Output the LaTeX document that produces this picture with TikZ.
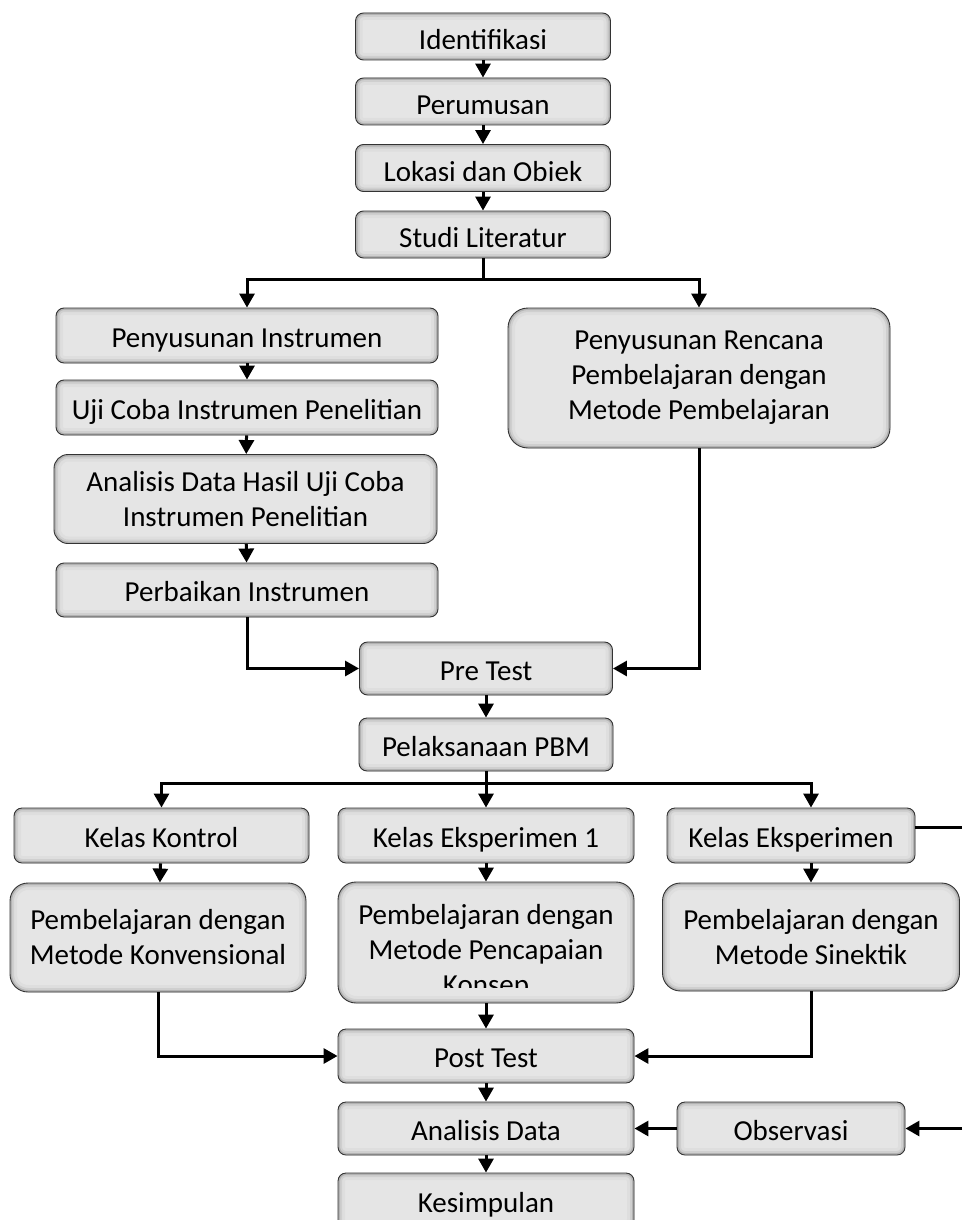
\documentclass[tikz,border=0pt]{standalone}
\usepackage{fontspec}
\setmainfont{Carlito}
\usetikzlibrary{arrows.meta,calc}

\begin{document}
\begin{tikzpicture}[x=1pt, y=-1pt,
  flowbox/.style={draw=black!80, line width=0.9pt, fill=black!10, rounded corners=#1,
    inner sep=2pt, align=center, font=\fontsize{29}{35}\selectfont,
    path picture={
      \foreach \w/\c in {14/13, 8/19, 4/30}{
        \draw[black!\c, line width=\w pt, rounded corners=#1]
          (path picture bounding box.south west) rectangle (path picture bounding box.north east);
      };
    }},
  flowbox/.default=8pt,
  oneline/.style={text height=23pt, text depth=0pt},
  flowtext/.style={font=\fontsize{29}{35}\selectfont, align=center, inner sep=0pt},
  arr/.style={-{Triangle[width=15pt,length=14pt]}, line width=3pt},
  link/.style={line width=3pt}]
  \useasboundingbox (0,0) rectangle (962,1220);

  \foreach \n/\t/\yy in {ident/Identifikasi/36.5, perum/Perumusan/101.5,
                         lokasi/Lokasi dan Objek/168, studi/Studi Literatur/234.5}{
    \node[flowbox, minimum width=255, minimum height=47] (\n) at (483,\yy) {};
    \begin{scope}
      \clip (355,{\yy-23}) rectangle (610,{\yy+12.5});
      \node[flowtext, anchor=base] (\n-txt) at (483,{\yy+13}) {\t};
    \end{scope}
  };
  \foreach \a/\b in {ident/perum, perum/lokasi, lokasi/studi}{
    \draw[arr] (\a) -- (\b);
  };

  \node[flowbox, oneline, minimum width=382, minimum height=55] (pinst) at (247,335.5) {Penyusunan Instrumen};
  \node[flowbox, oneline, minimum width=382, minimum height=55] (uji) at (247,407.5) {Uji Coba Instrumen Penelitian};
  \node[flowbox=14pt, minimum width=383, minimum height=89] (anhasil) at (245.5,499) {Analisis Data Hasil Uji Coba\\Instrumen Penelitian};
  \node[flowbox, oneline, minimum width=382, minimum height=54] (perb) at (247,590) {Perbaikan Instrumen};
  \node[flowbox=20pt, minimum width=382, minimum height=140] (prenc) at (699,378) {Penyusunan Rencana\\Pembelajaran dengan\\Metode Pembelajaran};
  \node[flowbox, oneline, minimum width=253, minimum height=53] (pretest) at (486,668.5) {Pre Test};
  \node[flowbox, oneline, minimum width=254, minimum height=53] (pelak) at (486,744.5) {Pelaksanaan PBM};

  \draw[arr] (studi.south) -- ++(0,21) -| (pinst.north);
  \draw[arr] (studi.south) -- ++(0,21) -| (prenc.north);
  \draw[arr] (pinst) -- (uji);
  \draw[arr] (uji) -- (anhasil);
  \draw[arr] (anhasil) -- (perb);
  \draw[arr] (perb.south) |- (pretest.west);
  \draw[arr] (prenc.south) |- (pretest.east);
  \draw[arr] (pretest) -- (pelak);

  \node[flowbox, oneline, minimum width=295, minimum height=55] (kontrol) at (161.5,835.5) {Kelas Kontrol};
  \node[flowbox, oneline, minimum width=296, minimum height=55] (eks1) at (486,835.5) {Kelas Eksperimen 1};
  \node[flowbox, oneline, minimum width=248, minimum height=55] (eks2) at (791,835.5) {Kelas Eksperimen};
  \node[flowbox=18pt, minimum width=296, minimum height=109] (konv) at (158,937.5) {Pembelajaran dengan\\Metode Konvensional};
  \node[flowbox=18pt, minimum width=296, minimum height=121] (pencap) at (486,942.5) {};
  \begin{scope}
    \clip (337,882) rectangle (633,987);
    \node[flowtext] (pencap-txt) at (486,952) {Pembelajaran dengan\\Metode Pencapaian\\Konsep};
  \end{scope}
  \node[flowbox=18pt, minimum width=297, minimum height=108] (sinek) at (811,937) {Pembelajaran dengan\\Metode Sinektik};
  \node[flowbox, oneline, minimum width=296, minimum height=54] (posttest) at (486,1056) {Post Test};
  \node[flowbox, oneline, minimum width=296, minimum height=53] (analisis) at (486,1128.5) {Analisis Data};
  \node[flowbox, oneline, minimum width=228, minimum height=53] (observ) at (791,1128.5) {Observasi};
  \node[flowbox, oneline, minimum width=296, minimum height=55] (kesimp) at (486,1200.5) {Kesimpulan};

  \coordinate (rimA) at (962,827);
  \coordinate (rimB) at (962,1128.5);

  \draw[arr] (pelak.south) -- (eks1.north);
  \draw[arr] (pelak.south) -- ++(0,12) -| (kontrol.north);
  \draw[arr] (pelak.south) -- ++(0,12) -| (sinek.north |- eks2.north);
  \draw[link] (eks2.east |- rimA) -- (rimA);
  \draw[arr] (kontrol) -- (konv);
  \draw[arr] (eks1) -- (pencap);
  \draw[arr] (sinek.north |- eks2.south) -- (sinek.north);
  \draw[arr] (konv.south) |- (posttest.west);
  \draw[arr] (pencap) -- (posttest);
  \draw[arr] (sinek.south) |- (posttest.east);
  \draw[arr] (posttest) -- (analisis);
  \draw[arr] (rimB) -- (observ.east);
  \draw[arr] (observ) -- (analisis);
  \draw[arr] (analisis) -- (kesimp);
\end{tikzpicture}
\end{document}
